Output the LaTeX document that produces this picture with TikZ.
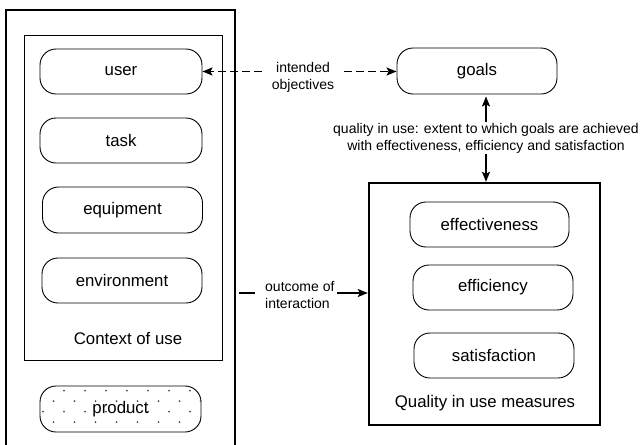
\documentclass[tikz,border=0pt]{standalone}
\usepackage{fontspec}
\setmainfont{Liberation Sans}
\usetikzlibrary{arrows.meta,calc}
\begin{document}
\begin{tikzpicture}[x=1pt,y=-1pt,
  pill/.style={draw, line width=0.9pt, rounded corners=16pt, minimum width=162pt,
    minimum height=45pt, inner sep=0pt, font=\fontsize{16.8}{20}\selectfont},
  frame/.style={draw, line width=2.4pt},
  caption/.style={inner sep=0pt, font=\fontsize{16.8}{20}\selectfont},
  lbl/.style={font=\fontsize{14}{17}\selectfont, fill=white, inner xsep=2pt, inner ysep=1pt},
  conn/.style={line width=1.5pt},
  dashconn/.style={conn, dash pattern=on 8pt off 4pt},
  tip/.style={-{Stealth[length=10pt,width=8pt,inset=2pt]}}
]
\useasboundingbox (0,0) rectangle (641,445);

% context frame, open at the bottom
\draw[line width=2.4pt] (6,448) |- (235,10) -- (235,448);
\node[draw, line width=1pt, minimum width=198pt, minimum height=325pt, inner sep=0pt] (ctx) at (123,197.5) {};
\node[caption] (ctxlbl) at (128,338) {Context of use};

\node[pill] (user) at (121,71.5) {user};
\node[pill] (task) at (121,140.5) {task};
\node[pill, minimum width=160pt, minimum height=46pt] (equip) at (122.5,210) {equipment};
\node[pill, minimum width=160pt] (env) at (122,280.5) {environment};

% product with dotted fill
\node[pill, minimum width=161pt, minimum height=46pt] (product) at (120.5,409) {};
\begin{scope}
  \clip[rounded corners=16pt] (product.south west) rectangle (product.north east);
  \foreach \j [evaluate=\j as \off using {mod(\j,2)*10.5}] in {0,...,3}
    \foreach \i in {0,...,8}
      \fill[black!70] (43+21*\i+\off, 390.5+10.5*\j) circle (1pt);
\end{scope}
\node[caption] at (product) {product};

% goals and quality-in-use measures
\node[pill, minimum width=160pt, minimum height=46pt] (goals) at (477,71) {goals};
\node[frame, minimum width=231pt, minimum height=242pt, inner sep=0pt] (qiu) at (484.5,304) {};
\node[caption] (qiulbl) at (485,403) {Quality in use measures};
\node[pill, minimum width=159pt] (eff) at (489.5,224.5) {effectiveness};
\node[pill, minimum width=160pt] (effic) at (493,287.5) {efficiency};
\node[pill, minimum width=160pt] (satis) at (494,355.5) {satisfaction};

% intended objectives
\node[lbl, align=center, inner xsep=10pt] (io) at (303,77) {intended\\objectives};
\draw[dashconn, tip] (user.east -| io.west) -- (user.east);
\draw[dashconn, tip] (user.east -| io.east) -- (user.east -| goals.west);

% quality in use
\node[lbl, align=center] (ql) at (486,138) {quality in use: extent to which goals are achieved\\with effectiveness, efficiency and satisfaction};
\draw[conn, tip, shorten >=2pt] (ql.north) -- (ql.north |- goals.south);
\draw[conn, tip] (ql.south) -- (ql.south |- qiu.north);

% outcome of interaction
\coordinate (os) at (239,293);
\node[lbl, align=left, anchor=west] (oi) at (263,295) {outcome of\\interaction};
\draw[conn] (os) -- ($(os -| oi.west)+(-8,0)$);
\draw[conn, tip] (os -| oi.east) -- (os -| qiu.west);
\end{tikzpicture}
\end{document}
